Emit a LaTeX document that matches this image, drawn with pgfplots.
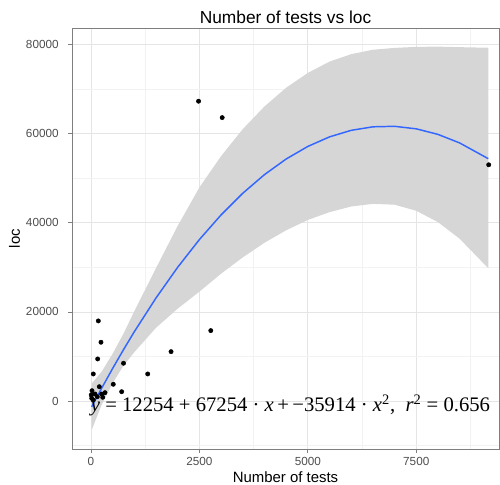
\documentclass[border=0pt]{standalone}
\usepackage{pgfplots}
\pgfplotsset{compat=1.18}
\usepackage{pgfplotstable}
\usepgfplotslibrary{fillbetween}
\usepackage{fontspec}
\setmainfont{Liberation Sans}
\newfontfamily\eqfont{Liberation Serif}
\definecolor{ribbon}{HTML}{D6D6D6}
\definecolor{fitblue}{HTML}{3366FF}
\definecolor{majgrid}{HTML}{E5E5E5}
\definecolor{mingrid}{HTML}{F2F2F2}
\definecolor{border}{HTML}{7F7F7F}
\definecolor{ticklab}{HTML}{4D4D4D}

\pgfplotstableread{
x fit lo hi
16 -1304 -6504 3896
250 2948 -752 6648
500 7326 4026 10626
750 11535 7935 15135
1000 15574 10974 20174
1500 23144 16444 29844
2000 30036 20736 39336
2500 36250 24550 47950
3000 41786 28586 54986
3500 46644 32244 61044
4000 50824 35524 66124
4500 54326 38326 70326
5000 57150 40650 73650
5500 59296 42396 76196
6000 60764 43664 77864
6500 61554 44254 78854
7000 61666 44066 79266
7500 61100 42700 79500
8000 59856 40156 79556
8500 57934 36434 79434
9160 54400 29800 79300
}\fittable

\pgfplotstableread{
x y
2480 67300
3025 63620
9170 53030
169 17980
230 13190
154 9440
53 6070
750 8470
1308 6070
514 3750
707 2090
1846 11080
2762 15800
192 3210
23 2310
5 1350
92 1570
246 1570
323 1870
146 970
270 830
16 600
53 225
}\pointtable

\begin{document}
\begin{tikzpicture}
\begin{axis}[
  at={(0,0)}, anchor=south west,
  scale only axis, width=320.25pt, height=315.75pt,
  xmin=-438, xmax=9408, ymin=-10776, ymax=83740,
  xtick={0,2500,5000,7500},
  ytick={0,20000,40000,60000,80000},
  minor xtick={1250,3750,6250,8750},
  minor ytick={-10000,10000,30000,50000,70000},
  grid=both,
  major grid style={color=majgrid, line width=0.6pt},
  minor grid style={color=mingrid, line width=0.5pt},
  axis line style={color=border, line width=0.6pt},
  tick align=outside,
  xtick pos=bottom, ytick pos=left,
  major tick length=3pt, minor tick length=0pt,
  tick style={color=border, line width=0.6pt},
  scaled ticks=false,
  /pgf/number format/assume math mode=true,
  /pgf/number format/1000 sep={},
  ticklabel style={font=\fontsize{8.8}{11}\selectfont, color=ticklab},
  yticklabel style={xshift=-3.5pt},
  title={Number of tests vs loc},
  title style={at={(axis description cs:0.5,1.0095)}, anchor=base, yshift=-6pt, font=\fontsize{13}{15}\selectfont},
  xlabel={Number of tests},
  ylabel={loc},
  xlabel style={at={(axis description cs:0.5,-0.0800)}, anchor=base, font=\fontsize{11.2}{13}\selectfont},
  ylabel style={at={(axis description cs:-0.1218,0.5)}, anchor=base, font=\fontsize{11.2}{13}\selectfont},
]
\addplot[draw=none, name path=up, forget plot] table[x=x, y=hi] {\fittable};
\addplot[draw=none, name path=down, forget plot] table[x=x, y=lo] {\fittable};
\addplot[fill=ribbon, draw=none] fill between[of=up and down];
\addplot[color=fitblue, line width=1.1pt] table[x=x, y=fit] {\fittable};
\addplot[only marks, mark=*, mark size=1.6pt, color=black] table[x=x, y=y] {\pointtable};
\node[anchor=base, font=\eqfont\fontsize{15.5}{18}\selectfont, inner sep=0pt] at (axis cs:4600,-2400)
  {\textit{y} = 12254 + 67254 · \textit{x}\,+\,−35914 · \textit{x}\textsuperscript{2}, \ \textit{r}\textsuperscript{2} = 0.656};
\end{axis}
\pgfresetboundingbox
\path[use as bounding box] (-54pt,-27pt) rectangle (321pt,336.75pt);
\end{tikzpicture}
\end{document}
